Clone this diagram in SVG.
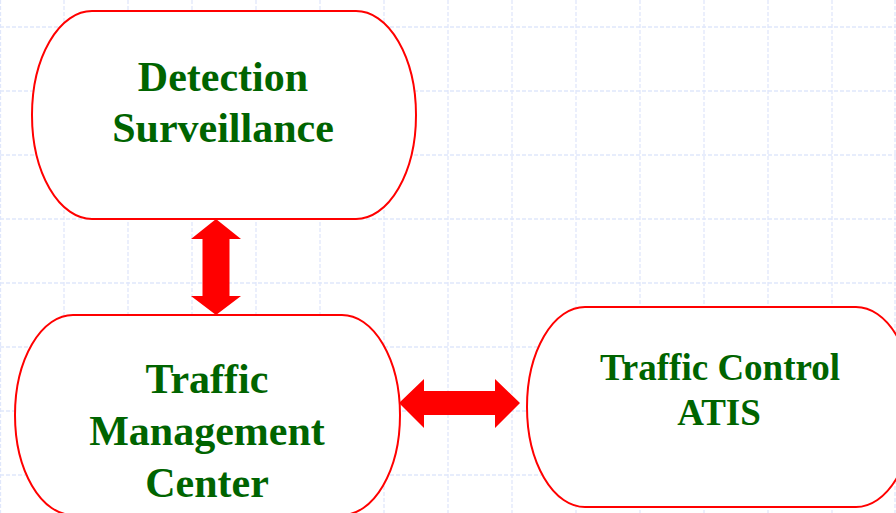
<svg xmlns="http://www.w3.org/2000/svg" width="896" height="513" viewBox="0 0 896 513">
  <defs>
    <style>
      .grid line { stroke: #e0e7fb; stroke-width: 1.3; stroke-dasharray: 4 2; }
      .node rect { fill: #ffffff; stroke: #ff0000; stroke-width: 2; }
      .node text { font-family: "Liberation Serif", "Times New Roman", serif; font-weight: bold; fill: #006400; text-anchor: middle; }
      .arrow { fill: #ff0000; }
    </style>
  </defs>

  <!-- background with dashed grid -->
  <rect x="0" y="0" width="896" height="513" fill="#ffffff"/>
  <g class="grid">
    <line x1="0.5" y1="0" x2="0.5" y2="513"/>
    <line x1="64" y1="0" x2="64" y2="513"/>
    <line x1="128" y1="0" x2="128" y2="513"/>
    <line x1="192" y1="0" x2="192" y2="513"/>
    <line x1="256" y1="0" x2="256" y2="513"/>
    <line x1="320" y1="0" x2="320" y2="513"/>
    <line x1="384" y1="0" x2="384" y2="513"/>
    <line x1="448" y1="0" x2="448" y2="513"/>
    <line x1="512" y1="0" x2="512" y2="513"/>
    <line x1="576" y1="0" x2="576" y2="513"/>
    <line x1="640" y1="0" x2="640" y2="513"/>
    <line x1="704" y1="0" x2="704" y2="513"/>
    <line x1="768" y1="0" x2="768" y2="513"/>
    <line x1="832" y1="0" x2="832" y2="513"/>
    <line x1="895" y1="0" x2="895" y2="513"/>
    <line x1="0" y1="27" x2="896" y2="27"/>
    <line x1="0" y1="91" x2="896" y2="91"/>
    <line x1="0" y1="155" x2="896" y2="155"/>
    <line x1="0" y1="219" x2="896" y2="219"/>
    <line x1="0" y1="283" x2="896" y2="283"/>
    <line x1="0" y1="347" x2="896" y2="347"/>
    <line x1="0" y1="411" x2="896" y2="411"/>
    <line x1="0" y1="475" x2="896" y2="475"/>
  </g>

  <!-- connectors: double-headed block arrows -->
  <g id="connectors">
    <polygon class="arrow" points="216,219 241,239 229.5,239 229.5,296 241,296 216,315 191,296 202.5,296 202.5,239 191,239"/>
    <polygon class="arrow" points="399,403 424,379 424,391 495,391 495,379 520,403 495,428 495,415 424,415 424,428"/>
  </g>

  <g id="detection" class="node">
    <rect x="32" y="11" width="384" height="208" rx="60" ry="104"/>
    <text x="223" y="91" font-size="42">Detection</text>
    <text x="223" y="142" font-size="42">Surveillance</text>
  </g>

  <g id="tmc" class="node">
    <rect x="15" y="315" width="385" height="200" rx="58" ry="100"/>
    <text x="207" y="393" font-size="42">Traffic</text>
    <text x="207" y="445" font-size="42">Management</text>
    <text x="207" y="497" font-size="42">Center</text>
  </g>

  <g id="traffic-control" class="node">
    <rect x="527" y="307" width="387" height="200" rx="58" ry="100"/>
    <text x="720" y="380" font-size="37">Traffic Control</text>
    <text x="719" y="425" font-size="37">ATIS</text>
  </g>
</svg>
